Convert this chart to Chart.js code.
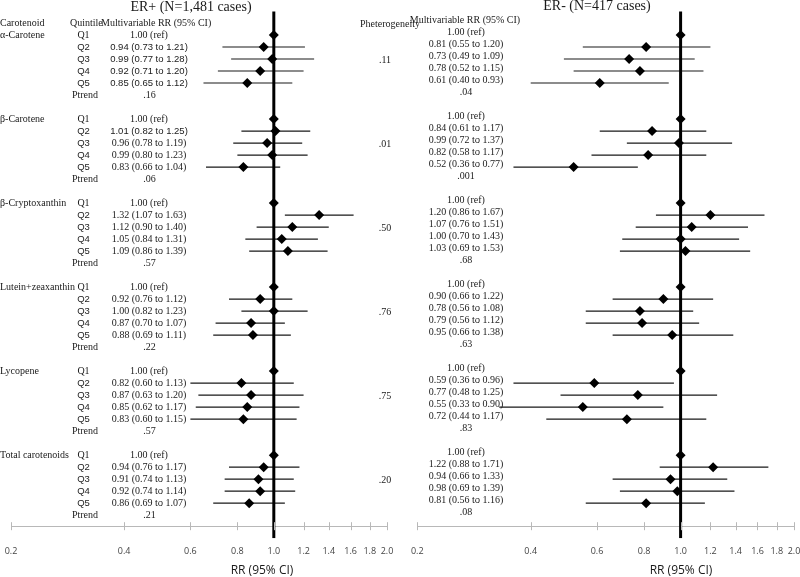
<!DOCTYPE html>
<html>
<head>
<meta charset="utf-8">
<script src="https://cdn.jsdelivr.net/npm/chart.js@4.4.1/dist/chart.umd.min.js"></script>
<style>
  html, body { margin: 0; padding: 0; background: #fff; overflow: hidden; }
  #wrap { position: relative; width: 800px; height: 577px; overflow: hidden; background: #fff; }
  #wrap canvas { position: absolute; top: 0; }
  #erPos { left: 0; }
  #erNeg { left: 400px; }
</style>
</head>
<body>
<div id="wrap">
  <canvas id="erPos" width="420" height="577"></canvas>
  <canvas id="erNeg" width="410" height="577"></canvas>
</div>
<script>
const carotenoids = ['α-Carotene', 'β-Carotene', 'β-Cryptoxanthin', 'Lutein+zeaxanthin', 'Lycopene', 'Total carotenoids'];
const quintiles = ['Q1', 'Q2', 'Q3', 'Q4', 'Q5'];
const tickValues = [0.2, 0.4, 0.6, 0.8, 1.0, 1.2, 1.4, 1.6, 1.8, 2.0];

// ER+ (Q1..Q5 for each carotenoid, Q1 is the reference)
const erPosRR = [1.00, 0.94, 0.99, 0.92, 0.85, 1.00, 1.01, 0.96, 0.99, 0.83, 1.00, 1.32, 1.12, 1.05, 1.09,
                 1.00, 0.92, 1.00, 0.87, 0.88, 1.00, 0.82, 0.87, 0.85, 0.83, 1.00, 0.94, 0.91, 0.92, 0.86];
const erPosLo = [null, 0.73, 0.77, 0.71, 0.65, null, 0.82, 0.78, 0.80, 0.66, null, 1.07, 0.90, 0.84, 0.86,
                 null, 0.76, 0.82, 0.70, 0.69, null, 0.60, 0.63, 0.62, 0.60, null, 0.76, 0.74, 0.74, 0.69];
const erPosHi = [null, 1.21, 1.28, 1.20, 1.12, null, 1.25, 1.19, 1.23, 1.04, null, 1.63, 1.40, 1.31, 1.39,
                 null, 1.12, 1.23, 1.07, 1.11, null, 1.13, 1.20, 1.17, 1.15, null, 1.17, 1.13, 1.14, 1.07];
const erPosPtrend = ['.16', '.06', '.57', '.22', '.57', '.21'];
const pHeterogeneity = ['.11', '.01', '.50', '.76', '.75', '.20'];

// ER-
const erNegRR = [1.00, 0.81, 0.73, 0.78, 0.61, 1.00, 0.84, 0.99, 0.82, 0.52, 1.00, 1.20, 1.07, 1.00, 1.03,
                 1.00, 0.90, 0.78, 0.79, 0.95, 1.00, 0.59, 0.77, 0.55, 0.72, 1.00, 1.22, 0.94, 0.98, 0.81];
const erNegLo = [null, 0.55, 0.49, 0.52, 0.40, null, 0.61, 0.72, 0.58, 0.36, null, 0.86, 0.76, 0.70, 0.69,
                 null, 0.66, 0.56, 0.56, 0.66, null, 0.36, 0.48, 0.33, 0.44, null, 0.88, 0.66, 0.69, 0.56];
const erNegHi = [null, 1.20, 1.09, 1.15, 0.93, null, 1.17, 1.37, 1.17, 0.77, null, 1.67, 1.51, 1.43, 1.53,
                 null, 1.22, 1.08, 1.12, 1.38, null, 0.96, 1.25, 0.90, 1.17, null, 1.71, 1.33, 1.39, 1.16];
const erNegPtrend = ['.04', '.001', '.68', '.63', '.83', '.08'];

const SERIF = "'Liberation Serif', 'Times New Roman', serif";
const SANS = "'Liberation Sans', Arial, sans-serif";
const F_SERIF = '10px ' + SERIF;
const F_SANS = '9.5px ' + SANS;
const INK = '#1a1a1a';
const AXIS_GREY = '#b8b8b8';

// 5 quintile rows + Ptrend + blank line per carotenoid
function rowOf(i) {
  return Math.floor(i / 5) * 7 + (i % 5);
}

function buildDatasets(rr, lo, hi) {
  const ciPoints = [];
  rr.forEach((v, i) => {
    if (lo[i] == null) return;
    const r = rowOf(i);
    ciPoints.push({ x: lo[i], y: r }, { x: hi[i], y: r }, { x: 1, y: null });
  });
  const markers = rr.map((v, i) => ({ x: v, y: rowOf(i) }));
  return [
    {
      type: 'scatter',
      data: markers,
      pointStyle: 'rectRot',
      pointRadius: 5,
      backgroundColor: '#000',
      borderColor: '#000',
      borderWidth: 0,
      order: 0,
    },
    {
      type: 'line',
      data: [{ x: 1, y: -1.95 }, { x: 1, y: 41.92 }],
      borderColor: '#000',
      borderWidth: 3,
      pointRadius: 0,
      // reference line runs a little past the axis line at the bottom
      clip: { left: 5, right: 5, top: 0, bottom: 12 },
      order: 1,
    },
    {
      type: 'line',
      data: ciPoints,
      borderColor: INK,
      borderWidth: 1.2,
      pointRadius: 0,
      spanGaps: false,
      order: 2,
    }
  ];
}

function put(ctx, text, x, y, align, font) {
  ctx.font = font;
  ctx.textAlign = align;
  ctx.textBaseline = 'middle';
  ctx.fillText(text, x, y);
}

function putParts(ctx, parts, cx, y) {
  ctx.textBaseline = 'middle';
  ctx.textAlign = 'left';
  let w = 0;
  parts.forEach(p => { ctx.font = p[1]; w += ctx.measureText(p[0]).width; });
  let x = cx - w / 2;
  parts.forEach(p => {
    ctx.font = p[1];
    ctx.fillText(p[0], x, y);
    x += ctx.measureText(p[0]).width;
  });
}

function rrParts(rr, lo, hi, allSans) {
  if (lo == null) return [[rr.toFixed(2) + ' (ref)', F_SERIF]];
  const num = allSans ? F_SANS : F_SERIF;
  return [
    [rr.toFixed(2) + ' (' + lo.toFixed(2) + ' ', num],
    ['to', F_SANS],
    [' ' + hi.toFixed(2) + ')', num]
  ];
}

// rows printed fully in sans in the original table
const sansRowsLeft = [1, 2, 3, 4, 6];

function drawLeftText(chart) {
  const { ctx } = chart;
  const ys = chart.scales.y;
  ctx.fillStyle = INK;
  put(ctx, 'ER+ (N=1,481 cases)', 191, 7, 'center', '14px ' + SERIF);
  put(ctx, 'Carotenoid', 0, 23, 'left', F_SERIF);
  put(ctx, 'Quintile', 70, 23, 'left', F_SERIF);
  put(ctx, 'Multivariable RR (95% CI)', 101, 23, 'left', F_SERIF);
  put(ctx, 'Pheterogeneity', 360, 24, 'left', F_SERIF);

  erPosRR.forEach((v, i) => {
    const y = ys.getPixelForValue(rowOf(i));
    const q = i % 5;
    put(ctx, quintiles[q], 83.5, y, 'center', q === 0 ? F_SERIF : F_SANS);
    putParts(ctx, rrParts(v, erPosLo[i], erPosHi[i], sansRowsLeft.includes(i)), 149, y);
  });
  carotenoids.forEach((name, g) => {
    put(ctx, name, 0, ys.getPixelForValue(g * 7), 'left', F_SERIF);
    const yt = ys.getPixelForValue(g * 7 + 5);
    put(ctx, 'Ptrend', 85, yt, 'center', F_SERIF);
    put(ctx, erPosPtrend[g], 149.5, yt, 'center', F_SERIF);
    put(ctx, pHeterogeneity[g], 385, ys.getPixelForValue(g * 7 + 2) + 1.5, 'center', F_SERIF);
  });
  put(ctx, 'RR (95% CI)', 262, 571, 'center', '12px "Open Sans", sans-serif');
}

function drawRightText(chart) {
  const { ctx } = chart;
  const ys = chart.scales.y;
  ctx.fillStyle = INK;
  put(ctx, 'ER- (N=417 cases)', 197, 6, 'center', '14px ' + SERIF);
  put(ctx, 'Multivariable RR (95% CI)', 65, 20, 'center', F_SERIF);
  erNegRR.forEach((v, i) => {
    const y = ys.getPixelForValue(rowOf(i)) - 3;
    putParts(ctx, rrParts(v, erNegLo[i], erNegHi[i], false), 66, y);
  });
  carotenoids.forEach((name, g) => {
    put(ctx, erNegPtrend[g], 66, ys.getPixelForValue(g * 7 + 5) - 3, 'center', F_SERIF);
  });
  put(ctx, 'RR (95% CI)', 281, 571, 'center', '12px "Open Sans", sans-serif');
}

function makeTextPlugin(drawFn) {
  return {
    id: 'forestText',
    afterDraw(chart) {
      const { ctx, chartArea } = chart;
      const xs = chart.scales.x;
      ctx.save();
      // short tick marks crossing the axis line
      ctx.strokeStyle = AXIS_GREY;
      ctx.lineWidth = 1;
      xs.ticks.forEach(t => {
        const px = Math.round(xs.getPixelForValue(t.value)) + 0.5;
        ctx.beginPath();
        ctx.moveTo(px, chartArea.bottom - 4);
        ctx.lineTo(px, chartArea.bottom + 4);
        ctx.stroke();
      });
      drawFn(chart);
      ctx.restore();
    }
  };
}

function makeChart(canvasId, rr, lo, hi, padding, drawFn) {
  return new Chart(document.getElementById(canvasId), {
    type: 'scatter',
    data: { datasets: buildDatasets(rr, lo, hi) },
    options: {
      responsive: false,
      animation: false,
      events: [],
      layout: { padding: padding },
      plugins: {
        legend: { display: false },
        tooltip: { enabled: false },
      },
      scales: {
        x: {
          type: 'logarithmic',
          min: 0.2,
          max: 2.0,
          afterBuildTicks: s => { s.ticks = tickValues.map(v => ({ value: v })); },
          ticks: {
            callback: v => Number(v).toFixed(1),
            autoSkip: false,
            maxRotation: 0,
            padding: 2,
            color: '#444',
            font: { family: '"Open Sans", sans-serif', size: 9 },
          },
          grid: {
            drawOnChartArea: false,
            drawTicks: true,
            tickLength: 18,
            tickColor: 'rgba(0,0,0,0)',
          },
          border: { color: AXIS_GREY, width: 1 },
        },
        y: {
          type: 'linear',
          reverse: true,
          min: -2,
          max: 40.92,
          display: false,
        }
      }
    },
    plugins: [makeTextPlugin(drawFn)]
  });
}

makeChart('erPos', erPosRR, erPosLo, erPosHi, { left: 11, right: 33, top: 11, bottom: 18 }, drawLeftText);
makeChart('erNeg', erNegRR, erNegLo, erNegHi, { left: 17.3, right: 16, top: 11, bottom: 18 }, drawRightText);
</script>
</body>
</html>
